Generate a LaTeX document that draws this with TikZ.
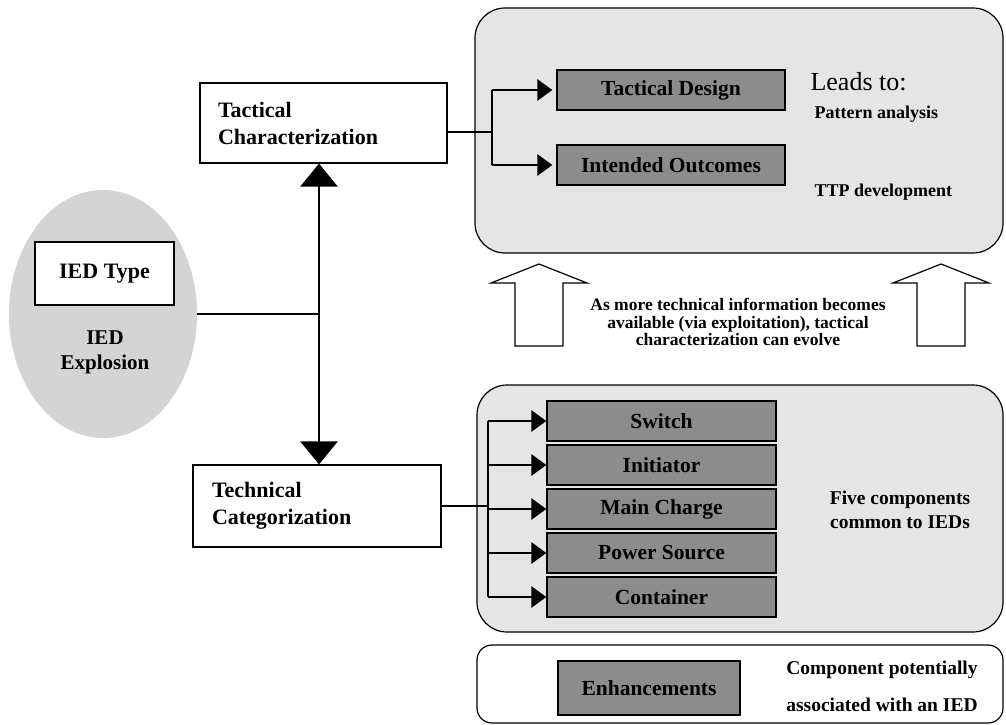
\documentclass[tikz,border=0pt]{standalone}
\usepackage{fontspec}
\setmainfont{Liberation Serif}
\usetikzlibrary{shapes.geometric, positioning, arrows.meta}

\definecolor{panelgray}{gray}{0.9}
\definecolor{partgray}{gray}{0.55}
\definecolor{blastgray}{gray}{0.83}

\begin{document}
\begin{tikzpicture}[x=1pt, y=-1pt,
  panel/.style={draw, line width=1.2pt, rounded corners=30pt, fill=panelgray},
  whitebox/.style={draw, line width=1.2pt, fill=white, font=\fontsize{22}{27}\selectfont\bfseries},
  partbox/.style={draw, line width=1.3pt, fill=partgray, minimum width=229pt, minimum height=40pt, font=\fontsize{21.5}{24}\selectfont\bfseries},
  note/.style={font=\fontsize{19.5}{24}\selectfont\bfseries, align=center},
  wire/.style={line width=2.8pt},
  smallarrow/.style={wire, -{Triangle[length=15pt, width=21pt]}},
  bigarrow/.style={wire, {Triangle[length=23pt, width=37pt]}-{Triangle[length=23pt, width=37pt]}}
]
  \def\spinex{319}
  \def\headhalf{48}
  \def\shafthalf{24}

  \useasboundingbox (0,0) rectangle (1006,725);

  % Draw the grey panels on the right
  \node[panel, minimum width=528pt, minimum height=245pt] (tacpanel) at (739,130.5) {};
  \node[panel, minimum width=526pt, minimum height=247pt] (techpanel) at (740,508.5) {};
  \node[panel, fill=white, rounded corners=15pt, minimum width=526pt, minimum height=78pt] (enhpanel) at (740,684) {};

  % Draw the explosion and the IED type
  \node[ellipse, fill=blastgray, minimum width=188pt, minimum height=248pt] (explosion) at (103,314) {};
  \node[whitebox, minimum width=139pt, minimum height=63pt] (iedtype) at (104.5,273.5) {IED Type};
  \node[note, font=\fontsize{21}{25}\selectfont\bfseries] (blastlabel) at (105,352) {IED\\Explosion};

  % Draw the two characterization boxes
  \node[whitebox, text width=211pt, inner xsep=18pt, minimum height=80pt, align=left] (tactical) at (323.5,123) {Tactical\\Characterization};
  \node[whitebox, text width=210pt, inner xsep=19pt, minimum height=82pt, align=left] (technical) at (317,506) {Technical\\Categorization};

  % Draw the tactical parts
  \node[partbox, minimum width=228pt] (design) at (671,90) {Tactical Design};
  \node[partbox, minimum width=228pt] (outcomes) at (671,165) {Intended Outcomes};

  % Draw the five components
  \foreach \i/\part/\label in {
    0/switch/Switch,
    1/initiator/Initiator,
    2/charge/Main Charge,
    3/power/Power Source,
    4/container/Container
  }{
    \node[partbox] (\part) at (661.5,421+\i*44) {\label};
  }

  \node[partbox, minimum width=182pt, minimum height=54pt] (enhance) at (649,688) {Enhancements};

  % Labels
  \node[anchor=west, font=\fontsize{26}{30}\selectfont] (leads) at (807,82) {Leads to:};
  \node[anchor=west, note, font=\fontsize{18}{22}\selectfont\bfseries] (pattern) at (811,114) {Pattern analysis};
  \node[anchor=west, note, font=\fontsize{18}{22}\selectfont\bfseries] (ttp) at (811,192) {TTP development};
  \node[note, font=\fontsize{17.5}{17.5}\selectfont\bfseries] (evolve) at (738,322) {As more technical information becomes\\available (via exploitation), tactical\\characterization can evolve};
  \node[note] (five) at (900,510) {Five components\\common to IEDs};
  \node[note, font=\fontsize{19.5}{37}\selectfont\bfseries] (potential) at (882,686.5) {Component potentially\\associated with an IED};

  % Connectors from the explosion
  \coordinate (spine) at (\spinex,314);
  \draw[wire] (explosion.east) -- (spine);
  \draw[bigarrow] (spine |- tactical.south) -- (spine |- technical.north);

  % Tactical branch
  \coordinate (tj) at (492,132);
  \draw[wire] (tactical.east |- tj) -- (tj);
  \draw[wire] (tj |- design.west) -- (tj |- outcomes.west);
  \foreach \part in {design, outcomes}
    \draw[smallarrow] (tj |- \part.west) -- ([xshift=-4pt]\part.west);

  % Technical branch
  \coordinate (bj) at (488,506);
  \draw[wire] (technical.east) -- (bj);
  \draw[wire] (bj |- switch.west) -- (bj |- container.west);
  \foreach \part in {switch, initiator, charge, power, container}
    \draw[smallarrow] (bj |- \part.west) -- (\part.west);

  % Draw hollow arrows between the panels
  \foreach \cx in {539, 941}{
    \draw[line width=1.2pt, fill=white]
      (\cx-\shafthalf,346) -- (\cx-\shafthalf,283) -- (\cx-\headhalf,283) --
      (\cx,264) -- % tip
      (\cx+\headhalf,283) -- (\cx+\shafthalf,283) -- (\cx+\shafthalf,346) -- cycle;
  }

\end{tikzpicture}
\end{document}
